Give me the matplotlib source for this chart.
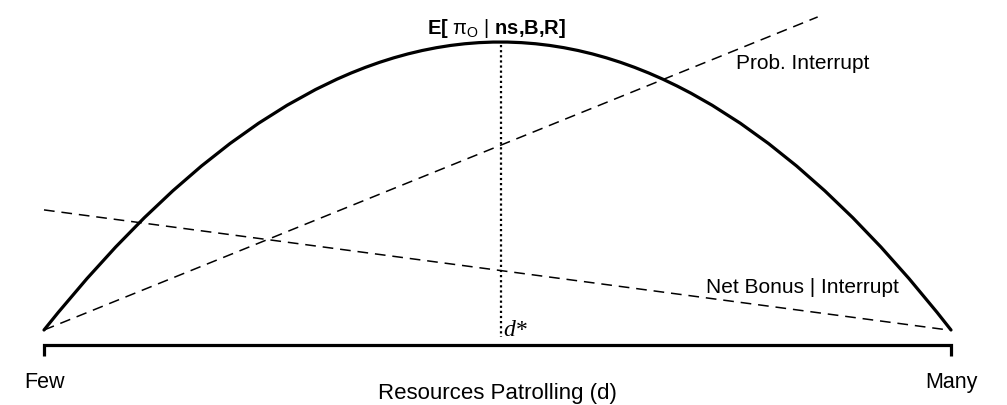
import matplotlib
matplotlib.use("Agg")
import matplotlib.pyplot as plt
from matplotlib.path import Path
from matplotlib.patches import PathPatch

# ---- data (abstract units: x 0 = Few, 1 = Many; y 0 = baseline of curves) ----
x_ends = [0.0, 1.0]
x_labels = ["Few", "Many"]
x_title = "Resources Patrolling (d)"

# expected payoff curve: quadratic (Bezier) through start, peak control, end
curve_x = [0.0, 0.506, 1.0]
curve_y = [0.0, 2.0, 0.0]          # control y = 2*peak height (peak = 1)

prob_x = [0.0, 0.853]
prob_y = [0.0, 1.087]

bonus_x = [0.0, 0.997]
bonus_y = [0.417, 0.0]

d_star = 0.504
d_star_y = [0.99, -0.024]

axis_y = -0.052
tick_bottom = -0.090

plt.rcParams['mathtext.fontset'] = 'custom'
plt.rcParams['mathtext.rm'] = 'Liberation Sans'
plt.rcParams['mathtext.bf'] = 'Liberation Sans:bold'
plt.rcParams['mathtext.it'] = 'Liberation Sans:italic'

fig = plt.figure(figsize=(10.07, 4.05), dpi=100)
ax = fig.add_axes([0, 0, 1, 1])
ax.set_xlim(-44 / 907, (1007 - 44) / 907)
ax.set_ylim((330 - 405) / 288, 330 / 288)
ax.axis('off')

# curve
path = Path(list(zip(curve_x, curve_y)), [Path.MOVETO, Path.CURVE3, Path.CURVE3])
ax.add_patch(PathPatch(path, facecolor='none', edgecolor='black', lw=2.3,
                       capstyle='round'))

# dashed lines
ax.plot(prob_x, prob_y, color='black', lw=1.1, ls=(0, (7, 4.5)))
ax.plot(bonus_x, bonus_y, color='black', lw=1.1, ls=(0, (7, 4.5)))

# dotted vertical at optimum
ax.plot([d_star, d_star], d_star_y, color='black', lw=1.6, ls=(0, (1, 1.3)))

# axis line with end ticks
ax.plot([x_ends[0], x_ends[0], x_ends[1], x_ends[1]],
        [tick_bottom, axis_y, axis_y, tick_bottom],
        color='black', lw=2.3, solid_joinstyle='miter', solid_capstyle='butt')

font = 'Liberation Sans'
ax.text(x_ends[0], -0.184, x_labels[0], ha='center', va='center', fontsize=15.5, family=font)
ax.text(x_ends[1], -0.184, x_labels[1], ha='center', va='center', fontsize=15.5, family=font)
ax.text(0.5, -0.219, x_title, ha='center', va='center', fontsize=16, family=font)

ax.text(0.499, 1.048,
        r"$\mathbf{E[}\ \mathrm{\pi_{O}}\ \mathrm{|}\ \mathbf{ns{,}B{,}R]}$",
        ha='center', va='center', fontsize=14.5)

ax.text(0.837, 0.927, "Prob. Interrupt", ha='center', va='center', fontsize=15, family=font)
ax.text(0.836, 0.149, "Net Bonus | Interrupt", ha='center', va='center', fontsize=15, family=font)

ax.text(0.520, 0.0, "d*", ha='center', va='center', fontsize=17,
        family='Liberation Serif', style='italic')

fig.savefig("out.png", dpi=100)
